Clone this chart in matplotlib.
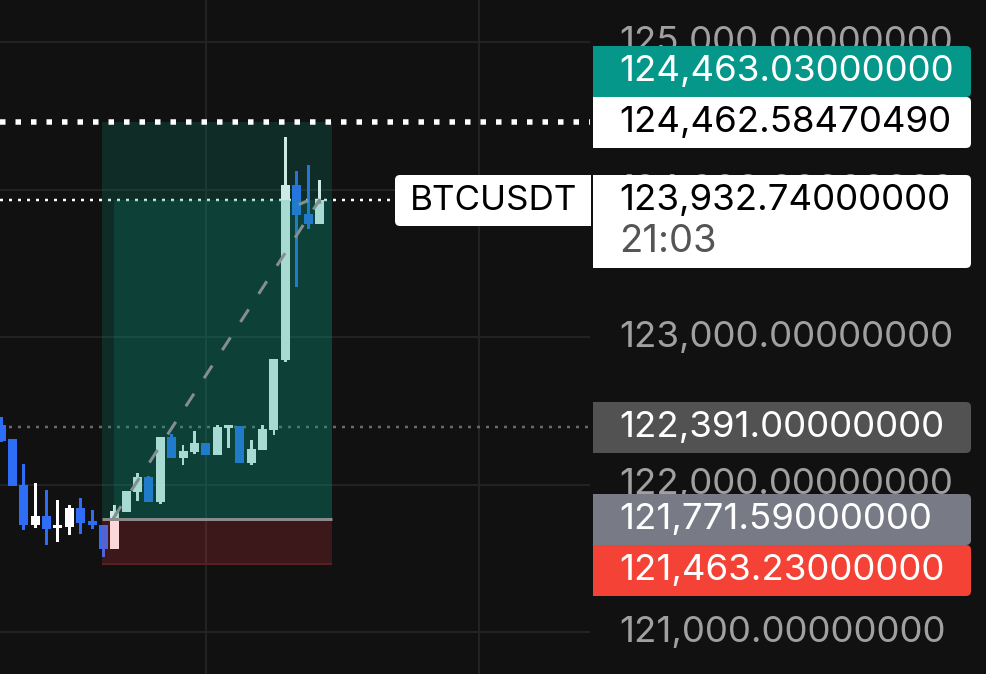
import matplotlib
matplotlib.use("Agg")
import matplotlib.pyplot as plt
from matplotlib.patches import FancyBboxPatch, Rectangle

# ---- data -------------------------------------------------------------
opens = [122407, 122312, 122000, 121729, 121790, 121708, 121715, 121844, 121756, 121729,
         121566, 121817, 121953, 122054, 121885, 122325, 122183, 122224, 122285, 122203,
         122386, 122400, 122149, 122237, 122373, 122848, 124034, 123837, 123770]
closes = [122298, 121993, 121729, 121790, 121702, 121729, 121844, 121742, 121729, 121566,
          121824, 121959, 122054, 121885, 122325, 122183, 122231, 122285, 122203, 122393,
          122407, 122149, 122244, 122380, 122854, 124034, 123831, 123770, 123932]
highs = [122461, 122312, 122142, 122014, 121966, 121898, 121864, 121912, 121830, 121729,
         121864, 121959, 122081, 122061, 122325, 122346, 122271, 122366, 122285, 122407,
         122407, 122400, 122305, 122407, 122854, 124359, 124129, 124170, 124068]
lows = [122292, 121993, 121695, 121708, 121593, 121614, 121661, 121668, 121702, 121512,
        121566, 121817, 121892, 121885, 121871, 122183, 122136, 122210, 122203, 122203,
        122251, 122149, 122136, 122237, 122339, 122834, 123342, 123736, 123770]

price_ticks = [125000, 124000, 123000, 122000, 121000]
time_grid = [18, 42]
target_price = 124462.58470490
high_label = 124463.03000000
last_price = 123932.74000000
ref_price = 122391.00000000
entry_price = 121771.59000000
stop_price = 121463.23000000
symbol = "BTCUSDT"
countdown = "21:03"
path_x = [9.84, 28.0, 28.25]
path_y = [121771, 123932, 123783]
path2_x = [26.3, 26.9]
path2_y = [123905, 123925]
zone_left, zone_inner_left, zone_right = 8.87, 9.93, 29.1

# ---- layout -----------------------------------------------------------
W, H = 986, 674
BG = "#111111"
fig = plt.figure(figsize=(W / 100, H / 100), dpi=100, facecolor=BG)
ax = fig.add_axes([0, 0, 1, 1])
ax.set_facecolor(BG)
ax.set_xlim(-1.1 / 11.37, (W - 1.1) / 11.37)
ax.set_ylim(122000 - 189 / 0.1475, 122000 + 485 / 0.1475)
ax.axis("off")
PLOT_END = (590 - 1.1) / 11.37
px = 0.72

for p in price_ticks:
    ax.hlines(p, ax.get_xlim()[0], PLOT_END, color="#222222", lw=2 * px, zorder=1)
for t in time_grid:
    ax.vlines(t, *ax.get_ylim(), color="#222222", lw=2 * px, zorder=1)

def dotted(price, color, width, on, off, z):
    ax.plot([ax.get_xlim()[0], PLOT_END], [price, price], color=color, lw=width * px,
            dashes=(on / width, off / width), dash_capstyle="butt", zorder=z)

dotted(ref_price, "#6a6a6a", 2.5, 3, 6, 2)
dotted(last_price, "#ffffff", 2.5, 3, 6, 2)

# candles
idx = list(range(len(opens)))
for i, o, c, h, l in zip(idx, opens, closes, highs, lows):
    col = "#ffffff" if c >= o else "#2e6df5"
    ax.bar(i, h - l, bottom=l, width=0.26, color=col, lw=0, zorder=3)
    ax.bar(i, abs(c - o), bottom=min(o, c), width=0.79, color=col, lw=0, zorder=3)

# position zones (over the candles)
ax.add_patch(Rectangle((zone_left, entry_price), zone_right - zone_left, target_price - entry_price,
                       fc="#089981", alpha=0.2, lw=0, zorder=4))
ax.add_patch(Rectangle((zone_inner_left, entry_price), zone_right - zone_inner_left, last_price - entry_price,
                       fc="#089981", alpha=0.19, lw=0, zorder=4))
ax.add_patch(Rectangle((zone_left, stop_price), zone_right - zone_left, entry_price - stop_price,
                       fc="#f23645", alpha=0.2, lw=0, zorder=4))
ax.hlines(stop_price, zone_left, zone_right, color="#5a1f22", lw=2 * px, zorder=5)
ax.hlines(entry_price, zone_left, zone_right, color="#8a8a8a", lw=3 * px, zorder=5)
LW = 3.0
ax.plot(path_x, path_y, color="#858f8d", lw=LW * px, dashes=(15 / LW, 18.5 / LW),
        dash_capstyle="butt", zorder=6)
ax.plot(path2_x, path2_y, color="#858f8d", lw=LW * px, zorder=6)
dotted(target_price, "#ffffff", 5.5, 5.5, 10, 7)

# ---- price scale overlay ---------------------------------------------
ov = fig.add_axes([0, 0, 1, 1], facecolor="none")
ov.set_xlim(0, W)
ov.set_ylim(H, 0)
ov.axis("off")
FONT = "Inter"
FS = 26.4

def ptext(s, x, base, color, z, size=FS):
    ov.text(x, base, s, color=color, fontsize=size, family=FONT,
            va="baseline", ha="left", zorder=z)

for p, base in zip(price_ticks, [52, 199.5, 347, 494, 642]):
    ptext(f"{p:,.8f}", 619, base, "#a0a0a0", 2)

def box(x0, y0, x1, y1, color, z, square="left"):
    ov.add_patch(FancyBboxPatch((x0 + 5, y0 + 5), x1 - x0 - 10, y1 - y0 - 10,
                                boxstyle="round,pad=5,rounding_size=5", fc=color, ec="none", zorder=z))
    if square == "left":
        ov.add_patch(Rectangle((x0, y0), (x1 - x0) / 2, y1 - y0, fc=color, ec="none", zorder=z))
    else:
        xm = (x0 + x1) / 2
        ov.add_patch(Rectangle((xm, y0), x1 - xm, y1 - y0, fc=color, ec="none", zorder=z))

rows = [
    (46, 97, "#05978a", high_label, 81, "#ffffff"),
    (97, 148, "#ffffff", target_price, 132, "#000000"),
    (402, 453, "#525252", ref_price, 437, "#ffffff"),
    (494, 545, "#787b86", entry_price, 529, "#ffffff"),
    (545, 596, "#f44336", stop_price, 580, "#ffffff"),
]
for k, (y0, y1, col, val, base, tc) in enumerate(rows):
    box(593, y0, 971, y1, col, 3 + k * 0.01)
    ptext(f"{val:,.8f}", 619, base, tc, 4)

box(593, 175, 971, 268, "#ffffff", 3)
ptext(f"{last_price:,.8f}", 619, 210, "#000000", 4)
ptext(countdown, 619, 252, "#555555", 4, size=27.5)
box(395, 175, 591, 226, "#ffffff", 3, square="right")
ptext(symbol, 410, 210, "#000000", 4, size=25.2)

fig.savefig("out.png", dpi=100, facecolor=BG)
